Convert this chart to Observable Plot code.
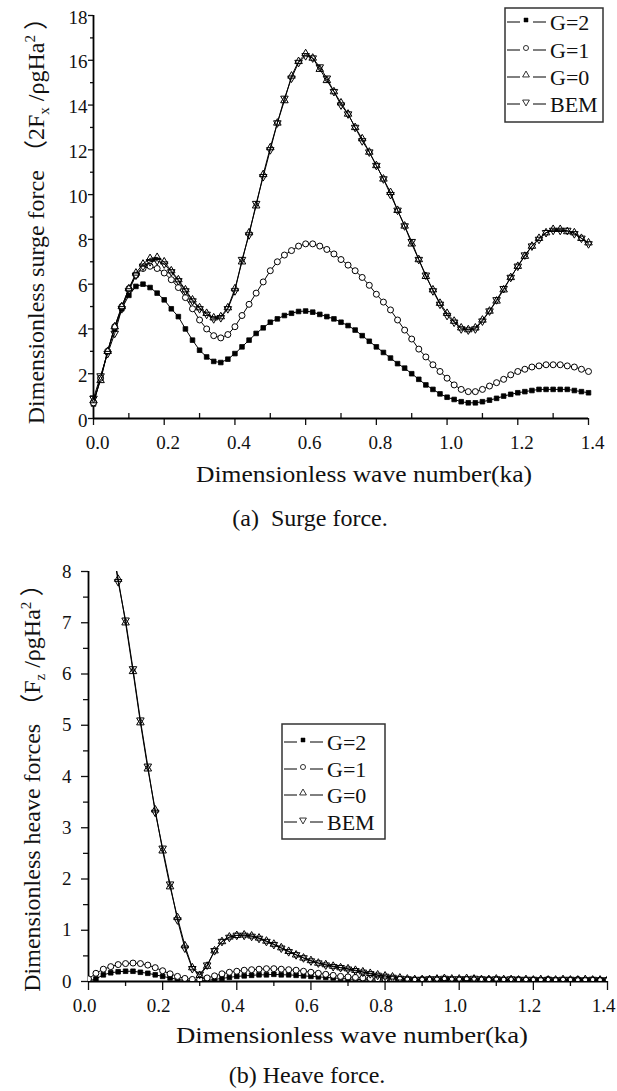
<!DOCTYPE html>
<html><head><meta charset="utf-8">
<script src="https://cdn.jsdelivr.net/npm/d3@7"></script>
<script src="https://cdn.jsdelivr.net/npm/@observablehq/plot@0.6"></script>
<style>
body{margin:0;background:#fff;}
#wrap{position:relative;width:617px;height:1091px;font-family:"Liberation Serif","Times New Roman",serif;color:#111;}
.panel{position:absolute;left:0;}
.cap{position:absolute;font-size:24px;line-height:24px;white-space:pre;transform:translateX(-50%);}
</style></head><body><div id="wrap"></div>
<script>
// ---------- data ----------
const ka = [0,0.02,0.04,0.06,0.08,0.1,0.12,0.14,0.16,0.18,0.2,0.22,0.24,0.26,0.28,0.3,0.32,0.34,0.36,0.38,0.4,0.42,0.44,0.46,0.48,0.5,0.52,0.54,0.56,0.58,0.6,0.62,0.64,0.66,0.68,0.7,0.72,0.74,0.76,0.78,0.8,0.82,0.84,0.86,0.88,0.9,0.92,0.94,0.96,0.98,1,1.02,1.04,1.06,1.08,1.1,1.12,1.14,1.16,1.18,1.2,1.22,1.24,1.26,1.28,1.3,1.32,1.34,1.36,1.38,1.4];
const seriesNames = ["G=2","G=1","G=0","BEM"];

// (a) surge force
const surgeG2 = [0.65,1.8,3.0,4.0,4.9,5.5,5.9,6.0,5.85,5.6, 5.3,4.9,4.55,4.0,3.5,3.05,2.75,2.55,2.5,2.65, 2.9,3.2,3.5,3.8,4.05,4.3,4.45,4.6,4.7,4.78, 4.8,4.75,4.65,4.55,4.45,4.3,4.15,3.95,3.7,3.45, 3.2,2.95,2.7,2.45,2.25,2.0,1.75,1.5,1.3,1.1, 0.95,0.85,0.75,0.7,0.7,0.75,0.82,0.9,1.0,1.08, 1.15,1.2,1.25,1.3,1.3,1.3,1.3,1.3,1.25,1.2, 1.15];
const surgeG1 = [0.7,1.8,3.0,4.1,5.0,5.8,6.4,6.7,6.8,6.7, 6.5,6.2,5.85,5.4,4.9,4.4,4.0,3.7,3.6,3.75, 4.1,4.6,5.1,5.6,6.1,6.6,7.0,7.3,7.5,7.7, 7.8,7.8,7.7,7.55,7.35,7.1,6.85,6.6,6.3,5.95, 5.55,5.2,4.85,4.4,3.95,3.55,3.1,2.75,2.4,2.1, 1.8,1.5,1.3,1.2,1.2,1.3,1.45,1.6,1.75,1.95, 2.1,2.2,2.3,2.35,2.4,2.4,2.4,2.35,2.3,2.2, 2.1];
const surgeG0 = [0.8,1.7,3.0,4.1,5.0,5.8,6.5,6.9,7.15,7.2, 7.0,6.6,6.2,5.75,5.3,4.95,4.7,4.5,4.55,4.95, 5.8,7.0,8.3,9.5,10.9,12.1,13.2,14.2,15.3,15.95, 16.3,16.1,15.6,15.1,14.6,14.1,13.6,13.0,12.5,11.9, 11.3,10.7,10.1,9.3,8.6,7.8,7.1,6.35,5.75,5.15, 4.7,4.35,4.05,3.97,4.05,4.4,4.8,5.25,5.75,6.3, 6.8,7.25,7.7,8.05,8.3,8.45,8.45,8.35,8.3,8.05, 7.85];
const surgeBEM = [0.9,1.9,2.9,3.8,4.9,5.7,6.4,6.8,7.0,7.05, 6.9,6.55,6.15,5.7,5.25,4.9,4.65,4.45,4.5,4.9, 5.7,7.1,8.2,9.6,10.8,12.0,13.2,14.3,15.2,15.9, 16.2,16.1,15.7,15.2,14.6,14.0,13.6,13.0,12.4,11.9, 11.3,10.7,10.0,9.3,8.6,7.9,7.1,6.4,5.7,5.1, 4.6,4.3,4.0,3.95,4.0,4.35,4.8,5.3,5.8,6.3, 6.8,7.3,7.7,8.0,8.3,8.4,8.4,8.4,8.25,8.05, 7.8];

// (b) heave force
const heaveG2 = [0.01,0.05,0.13,0.17,0.19,0.2,0.2,0.18,0.16,0.13, 0.1,0.07,0.04,0.02,0.01,0.01,0.02,0.04,0.06,0.08, 0.1,0.11,0.12,0.13,0.13,0.14,0.13,0.13,0.12,0.11, 0.1,0.09,0.08,0.07,0.06,0.05,0.04,0.04,0.03,0.03, 0.03,0.02,0.03,0.02,0.02,0.03,0.02,0.02,0.03,0.02, 0.02,0.03,0.02,0.02,0.03,0.02,0.02,0.02,0.03,0.02, 0.02,0.02,0.03,0.02,0.02,0.02,0.03,0.02,0.02,0.02, 0.02];
const heaveG1 = [0.05,0.16,0.24,0.29,0.33,0.35,0.36,0.35,0.32,0.27, 0.21,0.15,0.1,0.06,0.04,0.04,0.07,0.11,0.15,0.18, 0.2,0.22,0.23,0.24,0.25,0.25,0.24,0.23,0.22,0.2, 0.18,0.16,0.14,0.12,0.1,0.09,0.08,0.07,0.06,0.05, 0.05,0.04,0.04,0.03,0.03,0.04,0.03,0.03,0.04,0.03, 0.03,0.04,0.03,0.03,0.04,0.03,0.03,0.03,0.04,0.03, 0.03,0.03,0.04,0.03,0.03,0.03,0.04,0.03,0.03,0.03, 0.03];
const heaveG0 = [null,null,null,8.75,7.85,7.0,6.05,5.05,4.15,3.35, 2.55,1.85,1.25,0.7,0.27,0.12,0.3,0.6,0.78,0.87, 0.9,0.91,0.89,0.85,0.79,0.73,0.66,0.59,0.52,0.46, 0.41,0.36,0.33,0.3,0.27,0.25,0.22,0.19,0.16,0.13, 0.11,0.09,0.07,0.05,0.04,0.04,0.04,0.05,0.06,0.05, 0.05,0.06,0.05,0.04,0.04,0.05,0.04,0.04,0.03,0.04, 0.03,0.04,0.03,0.03,0.04,0.03,0.03,0.04,0.03,0.03, 0.03];
const heaveBEM = [null,null,null,8.7,7.8,7.05,6.1,5.1,4.2,3.3, 2.6,1.9,1.2,0.65,0.25,0.14,0.32,0.6,0.78,0.86, 0.9,0.9,0.88,0.84,0.78,0.72,0.65,0.58,0.52,0.46, 0.4,0.36,0.32,0.29,0.27,0.24,0.21,0.18,0.15,0.12, 0.1,0.08,0.06,0.05,0.04,0.04,0.05,0.05,0.06,0.05, 0.05,0.05,0.06,0.05,0.04,0.05,0.04,0.05,0.04,0.04, 0.04,0.03,0.04,0.03,0.04,0.04,0.03,0.03,0.04,0.03, 0.03];

// ticks
const xMajor = [0,0.2,0.4,0.6,0.8,1.0,1.2,1.4];
const xMinor = [0.1,0.3,0.5,0.7,0.9,1.1,1.3];
const surgeYMajor = [0,2,4,6,8,10,12,14,16,18];
const surgeYMinor = [1,3,5,7,9,11,13,15,17];
const heaveYMajor = [0,1,2,3,4,5,6,7,8];
const heaveYMinor = [0.5,1.5,2.5,3.5,4.5,5.5,6.5,7.5];

// ---------- helpers ----------
const triDown = {draw(context, size){
  const y = -Math.sqrt(size / (Math.sqrt(3) * 3));
  context.moveTo(0, -y * 2);
  context.lineTo(-Math.sqrt(3) * y, y);
  context.lineTo(Math.sqrt(3) * y, y);
  context.closePath();
}};
const symStyle = {
  "G=2": {symbol: "square", fill: "#000", stroke: "#000", strokeWidth: 0.8, r: 2.6},
  "G=1": {symbol: "circle", fill: "#fff", stroke: "#000", strokeWidth: 1, r: 3},
  "G=0": {symbol: "triangle", fill: "none", stroke: "#000", strokeWidth: 1, r: 2.8},
  "BEM": {symbol: triDown, fill: "none", stroke: "#000", strokeWidth: 1, r: 2.8}
};
function rows(vals, name){ return ka.map((k, i) => ({ka: k, v: vals[i], s: name})); }
function dataMarks(sets, clip){
  const m = [];
  sets.forEach(([name, vals]) => m.push(Plot.line(rows(vals, name), {x: "ka", y: "v", stroke: "#000", strokeWidth: 1, clip})));
  sets.forEach(([name, vals]) => m.push(Plot.dot(rows(vals, name).filter(d => d.v != null), {x: "ka", y: "v", ...symStyle[name], clip})));
  return m;
}
const FF = "'Liberation Serif', 'Times New Roman', serif";
function yLabel(svg, x, y, parts){
  const t = svg.append("text").attr("transform", `translate(${x},${y}) rotate(-90)`)
    .attr("text-anchor", "middle").attr("fill", "#111")
    .style("font-family", FF).style("font-size", "24px");
  parts.forEach(p => {
    const ts = t.append("tspan").text(p.t);
    if (p.dy) ts.attr("dy", p.dy);
    if (p.fs) ts.style("font-size", p.fs);
    if (p.ff) ts.style("font-family", p.ff);
  });
}
function xTitle(svg, cx, y, len){
  svg.append("text").attr("x", cx).attr("y", y).attr("text-anchor", "middle").attr("fill", "#111")
    .attr("textLength", len).attr("lengthAdjust", "spacingAndGlyphs")
    .style("font-family", FF).style("font-size", "24px")
    .text("Dimensionless wave number(ka)");
}
function legend(svg, x0, y0, w, h, rowsY){
  const g = svg.append("g").attr("text-anchor", "start");
  g.append("rect").attr("x", x0).attr("y", y0).attr("width", w).attr("height", h)
    .attr("fill", "#fff").attr("stroke", "#333").attr("stroke-width", 1.5);
  const sym = {"G=2": d3.symbolSquare, "G=1": d3.symbolCircle, "G=0": d3.symbolTriangle, "BEM": triDown};
  seriesNames.forEach((name, i) => {
    const cy = y0 + rowsY[i];
    g.append("line").attr("x1", x0 + 2).attr("x2", x0 + 15).attr("y1", cy).attr("y2", cy).attr("stroke", "#000");
    g.append("line").attr("x1", x0 + 28).attr("x2", x0 + 41).attr("y1", cy).attr("y2", cy).attr("stroke", "#000");
    g.append("path").attr("transform", `translate(${x0 + 21},${cy - 2})`)
      .attr("d", d3.symbol(sym[name], name === "G=2" ? 16 : 20)())
      .attr("fill", name === "G=2" ? "#000" : "#fff").attr("stroke", "#000").attr("stroke-width", name === "G=2" ? 0.5 : 0.8);
    g.append("text").attr("x", x0 + 45).attr("y", cy + 8).attr("fill", "#111").attr("text-anchor", "start")
      .style("font-family", FF).style("font-size", "22px").text(name);
  });
}
const baseStyle = {fontFamily: FF, fontSize: "19px", color: "#111", background: "transparent", overflow: "visible"};
const fmt1 = d => d.toFixed(1);
const fmt0 = d => String(d);
const noText = () => "";

// ---------- panel (a) ----------
const plotA = Plot.plot({
  width: 617, height: 490, marginTop: 15, marginBottom: 72, marginLeft: 93, marginRight: 29,
  x: {domain: [0, 1.4], axis: null}, y: {domain: [0, 18], axis: null},
  style: baseStyle,
  marks: [
    Plot.axisX(xMajor, {tickSize: 7, tickFormat: noText, label: null, strokeWidth: 1.3}),
    Plot.axisX(xMajor, {tickSize: 0, tickPadding: 17, tickFormat: fmt1, label: null, dx: 4}),
    Plot.axisX(xMinor, {tickSize: 5, dy: -5, tickFormat: noText, label: null, strokeWidth: 1.3}),
    Plot.axisY(surgeYMajor, {tickSize: 5, tickFormat: noText, label: null, strokeWidth: 1.3}),
    Plot.axisY(surgeYMajor, {tickSize: 0, tickPadding: 6, tickFormat: fmt0, label: null, dy: 2}),
    Plot.axisY(surgeYMinor, {tickSize: 3, tickFormat: noText, label: null, strokeWidth: 1.3}),
    Plot.ruleY([0], {stroke: "#000", strokeWidth: 1.8}),
    Plot.ruleX([0], {stroke: "#000", strokeWidth: 1.8}),
    ...dataMarks([["G=2", surgeG2], ["G=1", surgeG1], ["G=0", surgeG0], ["BEM", surgeBEM]], false)
  ]
});
// ---------- panel (b) ----------
const plotB = Plot.plot({
  width: 617, height: 510, marginTop: 31, marginBottom: 69, marginLeft: 88, marginRight: 10,
  x: {domain: [0, 1.4], axis: null}, y: {domain: [0, 8], axis: null},
  style: baseStyle,
  marks: [
    Plot.axisX(xMajor, {tickSize: 9, tickFormat: noText, label: null, strokeWidth: 1.3}),
    Plot.axisX(xMajor, {tickSize: 0, tickPadding: 17, tickFormat: fmt1, label: null, dx: -4}),
    Plot.axisX(xMinor, {tickSize: 5, tickFormat: noText, label: null, strokeWidth: 1.3}),
    Plot.axisY(heaveYMajor, {tickSize: 7, tickFormat: noText, label: null, strokeWidth: 1.3}),
    Plot.axisY(heaveYMajor, {tickSize: 0, tickPadding: 17, tickFormat: fmt0, label: null}),
    Plot.axisY(heaveYMinor, {tickSize: 5, tickFormat: noText, label: null, strokeWidth: 1.3}),
    Plot.ruleY([0], {stroke: "#000", strokeWidth: 1.8}),
    Plot.ruleX([0], {stroke: "#000", strokeWidth: 1.8}),
    ...dataMarks([["G=2", heaveG2], ["G=1", heaveG1], ["G=0", heaveG0], ["BEM", heaveBEM]], true)
  ]
});

const wrap = document.getElementById("wrap");
const dA = document.createElement("div"); dA.className = "panel"; dA.style.top = "0px"; dA.appendChild(plotA); wrap.appendChild(dA);
const dB = document.createElement("div"); dB.className = "panel"; dB.style.top = "540px"; dB.appendChild(plotB); wrap.appendChild(dB);

const sA = d3.select(plotA), sB = d3.select(plotB);
yLabel(sA, 44, 215, [
  {t: "Dimensionless surge force "},
  {t: "（", ff: "'Noto Sans CJK SC'"},
  {t: "2F"}, {t: "x", fs: "15px", dy: 5}, {t: " /ρgHa", dy: -5}, {t: "2", fs: "15px", dy: -9}, {t: " ）", dy: 9, ff: "'Noto Sans CJK SC'"}
]);
yLabel(sB, 40, 242, [
  {t: "Dimensionless heave forces "},
  {t: "（", ff: "'Noto Sans CJK SC'"},
  {t: "F"}, {t: "z", fs: "15px", dy: 5}, {t: " /ρgHa", dy: -5}, {t: "2", fs: "15px", dy: -9}, {t: " ）", dy: 9, ff: "'Noto Sans CJK SC'"}
]);
xTitle(sA, 364, 482, 336);
xTitle(sB, 352, 503, 352);
legend(sA, 505, 8, 98, 114, [14, 42, 69, 96]);
legend(sB, 282, 184, 103, 115, [18, 45, 71, 98]);

function caption(text, cx, top){
  const c = document.createElement("div"); c.className = "cap"; c.textContent = text;
  c.style.left = cx + "px"; c.style.top = top + "px"; wrap.appendChild(c);
}
caption("(a)  Surge force.", 310, 506);
caption("(b) Heave force.", 307, 1063);
</script></body></html>
